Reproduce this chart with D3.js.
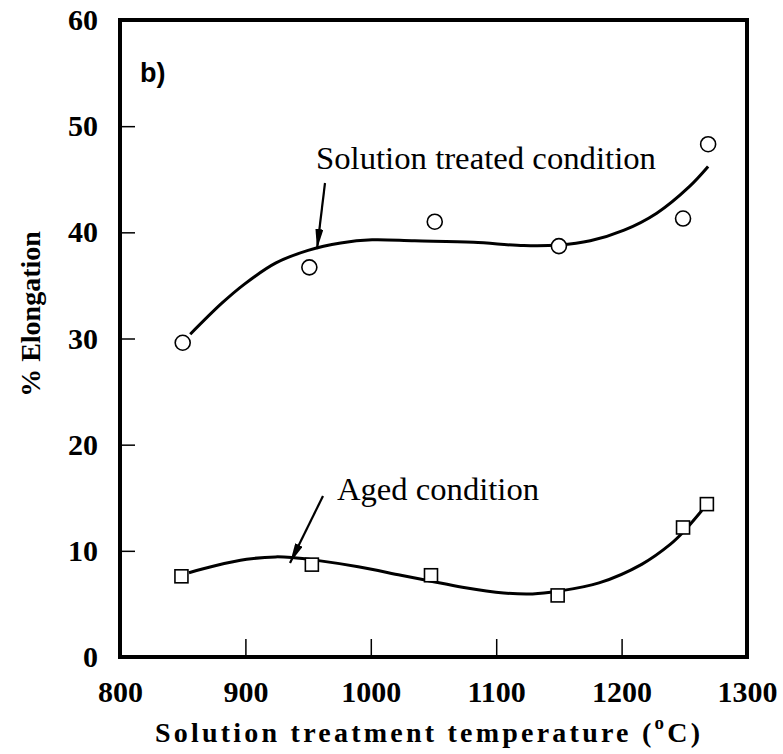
<!DOCTYPE html>
<html>
<head>
<meta charset="utf-8">
<script src="https://cdn.jsdelivr.net/npm/d3@7"></script>
<style>
  body { margin: 0; background: #fff; }
  svg { display: block; }
</style>
</head>
<body>
<div id="chart"></div>
<script>
'use strict'

// measured points
const treatedTemp = [850, 951, 1051, 1150, 1249, 1269]
const treatedElong = [29.6, 36.7, 41.0, 38.7, 41.3, 48.3]
const agedTemp = [849, 953, 1048, 1149, 1249, 1268]
const agedElong = [7.6, 8.7, 7.7, 5.8, 12.2, 14.4]

// fitted curves
const treatedFitTemp = [856, 881, 899, 924, 950, 976, 1001, 1035, 1082, 1122, 1150, 1175, 1202, 1228, 1254, 1269]
const treatedFitElong = [30.4, 33.3, 35.1, 37.1, 38.3, 39.0, 39.3, 39.2, 39.06, 38.75, 38.8, 39.2, 40.2, 41.8, 44.3, 46.2]
const agedFitTemp = [855, 875, 901, 924, 937, 957, 990, 1024, 1048, 1073, 1106, 1129, 1149, 1182, 1216, 1239, 1249, 1264]
const agedFitElong = [7.94, 8.57, 9.2, 9.43, 9.37, 9.1, 8.5, 7.7, 7.14, 6.57, 6.03, 5.94, 6.19, 6.98, 8.73, 10.63, 11.75, 13.8]

const xTicks = [800, 900, 1000, 1100, 1200, 1300]
const yTicks = [0, 10, 20, 30, 40, 50, 60]

////////////////////////////////////
//////////// svg setup /////////////
////////////////////////////////////

const svgWidth = 783
const svgHeight = 754
const margin = { left: 120, right: 36, top: 20, bottom: 97 }
const width = svgWidth - margin.left - margin.right
const height = svgHeight - margin.top - margin.bottom

const serif = "'Liberation Serif', 'Times New Roman', serif"
const sans = "'Liberation Sans', Arial, sans-serif"

const svg = d3.select('#chart').append('svg')
    .attr('width', svgWidth)
    .attr('height', svgHeight)

const g = svg.append('g')
    .attr('transform', `translate(${margin.left},${margin.top})`)

////////////////////////////////////
//////////////scales////////////////
////////////////////////////////////

const xScale = d3.scaleLinear().domain([800, 1300]).range([0, width])
const yScale = d3.scaleLinear().domain([0, 60]).range([height, 0])

////////////////////////////////////
///////////////axis/////////////////
////////////////////////////////////

const yAxis = g.append('g')
    .call(d3.axisLeft(yScale).tickValues(yTicks).tickFormat(d3.format('d'))
        .tickSizeInner(-15).tickSizeOuter(0).tickPadding(22))
yAxis.select('.domain').remove()

const xAxis = g.append('g')
    .attr('transform', `translate(0,${height})`)
    .call(d3.axisBottom(xScale).tickValues(xTicks).tickFormat(d3.format('d'))
        .tickSizeInner(-18).tickSizeOuter(0).tickPadding(24))
xAxis.select('.domain').remove()

g.selectAll('.tick line').attr('stroke', '#000').attr('stroke-width', 1.5)
g.selectAll('.tick text')
    .style('font-family', serif)
    .style('font-weight', 'bold')
    .style('font-size', '30px')
    .attr('fill', '#000')

// frame
g.append('rect')
    .attr('x', 0).attr('y', 0)
    .attr('width', width).attr('height', height)
    .attr('fill', 'none')
    .attr('stroke', '#000')
    .attr('stroke-width', 4)

////////////////////////////////////
/////////////// lines //////////////
////////////////////////////////////

const line = d3.line()
    .x(d => xScale(d[0]))
    .y(d => yScale(d[1]))
    .curve(d3.curveCatmullRom)

g.append('path')
    .attr('d', line(d3.zip(treatedFitTemp, treatedFitElong)))
    .attr('fill', 'none').attr('stroke', '#000').attr('stroke-width', 3)

g.append('path')
    .attr('d', line(d3.zip(agedFitTemp, agedFitElong)))
    .attr('fill', 'none').attr('stroke', '#000').attr('stroke-width', 3)

g.append('g').selectAll('circle')
    .data(d3.zip(treatedTemp, treatedElong))
    .join('circle')
    .attr('cx', d => xScale(d[0]))
    .attr('cy', d => yScale(d[1]))
    .attr('r', 7.5)
    .attr('fill', '#fff').attr('stroke', '#000').attr('stroke-width', 1.6)

const sq = 13
g.append('g').selectAll('rect')
    .data(d3.zip(agedTemp, agedElong))
    .join('rect')
    .attr('x', d => xScale(d[0]) - sq / 2)
    .attr('y', d => yScale(d[1]) - sq / 2)
    .attr('width', sq).attr('height', sq)
    .attr('fill', '#fff').attr('stroke', '#000').attr('stroke-width', 1.6)

////////////////////////////////////
//////////// annotations ///////////
////////////////////////////////////

svg.append('defs').append('marker')
    .attr('id', 'head')
    .attr('viewBox', '0 0 20 8')
    .attr('refX', 20).attr('refY', 4)
    .attr('markerWidth', 20).attr('markerHeight', 8)
    .attr('markerUnits', 'userSpaceOnUse')
    .attr('orient', 'auto')
    .append('path')
    .attr('d', 'M0,0L20,4L0,8Z')
    .attr('fill', '#000')

svg.append('text')
    .attr('x', 316).attr('y', 169)
    .style('font-family', serif).style('font-size', '31px')
    .attr('textLength', 340).attr('lengthAdjust', 'spacingAndGlyphs')
    .text('Solution treated condition')

svg.append('line')
    .attr('x1', 325).attr('y1', 183).attr('x2', 317).attr('y2', 249)
    .attr('stroke', '#000').attr('stroke-width', 2.2)
    .attr('marker-end', 'url(#head)')

svg.append('text')
    .attr('x', 337).attr('y', 500)
    .style('font-family', serif).style('font-size', '31px')
    .attr('textLength', 202).attr('lengthAdjust', 'spacingAndGlyphs')
    .text('Aged condition')

svg.append('line')
    .attr('x1', 323).attr('y1', 496).attr('x2', 290).attr('y2', 563)
    .attr('stroke', '#000').attr('stroke-width', 2.2)
    .attr('marker-end', 'url(#head)')

svg.append('text')
    .attr('x', 140).attr('y', 82)
    .style('font-family', sans).style('font-weight', 'bold').style('font-size', '27px')
    .text('b)')

// axis titles
const xTitle = svg.append('text')
    .attr('x', 155).attr('y', 742)
    .style('font-family', serif).style('font-weight', 'bold').style('font-size', '28px')
    .attr('textLength', 545).attr('lengthAdjust', 'spacing')
xTitle.append('tspan').text('Solution treatment temperature (')
xTitle.append('tspan').attr('dy', -13).style('font-size', '19px').text('o')
xTitle.append('tspan').attr('dy', 13).text('C)')

svg.append('text')
    .attr('transform', 'translate(40,314) rotate(-90)')
    .attr('text-anchor', 'middle')
    .style('font-family', serif).style('font-weight', 'bold').style('font-size', '28px')
    .text('% Elongation')
</script>
</body>
</html>
